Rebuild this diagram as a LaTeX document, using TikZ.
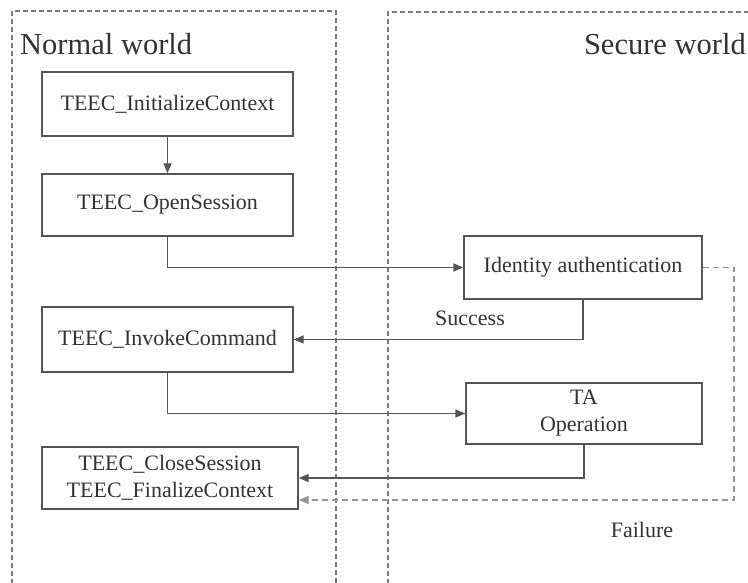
\documentclass[tikz,border=0pt]{standalone}
\usepackage{fontspec}
\setmainfont{Liberation Serif}
\usetikzlibrary{arrows.meta,calc}
\definecolor{boxline}{HTML}{555555}
\definecolor{txt}{HTML}{333333}
\definecolor{dashline}{HTML}{7A7A7A}
\tikzset{
  procbox/.style={draw=boxline, line width=1.3pt, rectangle, align=center, text=txt,
    font=\fontsize{22}{27}\selectfont, inner sep=0pt},
  conn/.style={draw=boxline, line width=1.3pt, -{Triangle[length=10pt,width=8pt]}},
  failconn/.style={draw=dashline!80, line width=1.2pt, dash pattern=on 6pt off 4pt, -{Triangle[length=10pt,width=8pt]}},
  worldbox/.style={draw=dashline, line width=1.2pt, dash pattern=on 5pt off 3pt},
  lbl/.style={text=txt, font=\fontsize{22}{27}\selectfont, inner sep=0pt},
  title/.style={text=txt, font=\fontsize{30.5}{34}\selectfont, inner sep=0pt}
}
\begin{document}
\begin{tikzpicture}[x=1pt,y=-1pt]
\useasboundingbox (0,0) rectangle (748,583);
\clip (0,0) rectangle (748,583);
\fill[white] (0,0) rectangle (748,583);
% world frames
\draw[worldbox] (12,600) -- (12,11) -- (336,11) -- (336,600);
\draw[worldbox] (388,600) -- (388,12) -- (770,12);
\node[title, anchor=base west] (nw) at (20,55) {Normal world};
\node[title, anchor=base east] (sw) at (746,55) {Secure world};
% boxes
\node[procbox, minimum width=251pt, minimum height=64pt] (init) at (167.5,104) {TEEC\_InitializeContext};
\node[procbox, minimum width=251pt, minimum height=62pt] (open) at (167.5,205) {TEEC\_OpenSession};
\node[procbox, minimum width=251pt, minimum height=65pt] (invoke) at (167.5,339.5) {TEEC\_InvokeCommand};
\node[procbox, minimum width=256pt, minimum height=62pt] (close) at (170,478) {TEEC\_CloseSession\\TEEC\_FinalizeContext};
\node[procbox, minimum width=238pt, minimum height=63pt] (ident) at (583,267.5) {Identity authentication};
\node[procbox, minimum width=236pt, minimum height=61pt] (ta) at (584,413.5) {TA\\Operation};
% labels
\node[lbl, anchor=base] (succ) at (470,325) {Success};
\node[lbl, anchor=base] (fail) at (642,537) {Failure};
% connectors
\draw[conn] (init.south) -- (open.north);
\draw[conn] (open.south) |- (ident.west);
\draw[conn] (ident.south) |- (invoke.east);
\draw[conn] (invoke.south) |- (ta.west);
\draw[conn] (ta.south) |- (close.east);
\coordinate (fc) at (734,500);
\draw[failconn] (ident.east) -| (fc) -- ($(close.east)+(0,22)$);
\end{tikzpicture}
\end{document}
